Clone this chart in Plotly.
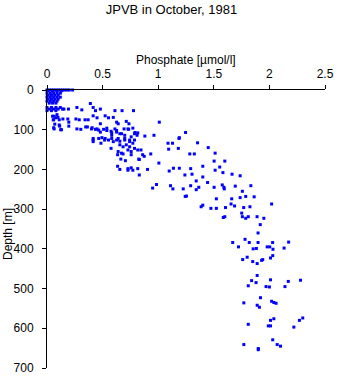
import plotly.graph_objects as go

TITLE = "JPVB in October, 1981"
X_TITLE = "Phosphate [\u00b5mol/l]"
Y_TITLE = "Depth [m]"
X_TICKS = [0, 0.5, 1, 1.5, 2, 2.5]
X_TICKTEXT = ["0", "0.5", "1", "1.5", "2", "2.5"]
Y_TICKS = [0, 100, 200, 300, 400, 500, 600, 700]

# Surface / near-surface samples (low phosphate)
phos_surface = [0, 0.02, 0.04, 0.06, 0.08, 0.10, 0.12, 0.14, 0.16, 0.18, 0.20, 0.23,
                0.01, 0.05, 0.09, 0.13,
                0.0, 0.03, 0.06, 0.09, 0.12,
                0.01, 0.04, 0.07, 0.10,
                0.0, 0.03, 0.06, 0.09, 0.12,
                0.01, 0.04, 0.07, 0.10,
                0.0, 0.03, 0.06, 0.09,
                0.02, 0.05, 0.08,
                0.0, 0.04, 0.08, 0.12,
                0.02, 0.06, 0.10, 0.14,
                0.0, 0.04, 0.08,
                0.05, 0.08, 0.11, 0.06, 0.09,
                0.07, 0.11, 0.06, 0.13]
depth_surface = [0, 0, 0, 0, 0, 0, 0, 0, 0, 0, 0, 0,
                 2, 2, 2, 2,
                 8, 8, 8, 8, 8,
                 13, 13, 13, 13,
                 18, 18, 18, 18, 18,
                 23, 23, 23, 23,
                 28, 28, 28, 28,
                 33, 33, 33,
                 44, 44, 44, 44,
                 48, 48, 48, 48,
                 52, 52, 52,
                 66, 70, 75, 75, 62,
                 86, 88, 95, 100]

# Upper thermocline samples (30-125 m)
phos_upper = [0.39, 0.415, 0.436, 0.48, 0.152, 0.193, 0.269, 0.313, 0.611, 0.675, 0.778,
              0.415, 0.45, 0.523, 0.553, 0.596, 0.48, 0.626, 0.64, 0.713, 0.737, 1.01,
              0.064, 0.099, 0.143, 0.187, 0.196, 0.26, 0.29, 0.342, 0.37, 0.056,
              0.064, 0.123, 0.114, 0.196, 0.269, 0.304, 0.363, 0.40, 0.436, 0.465,
              0.509, 0.538, 0.576, 0.611, 0.626, 0.655, 0.693, 0.734, 0.772, 0.792,
              0.81, 0.88, 0.962, 1.19, 1.246,
              0.415, 0.465, 0.494, 0.582, 0.64, 0.699, 0.743, 0.757, 0.582, 0.699,
              0.348, 0.406, 0.45, 0.48, 0.538, 0.582, 0.626, 0.67, 0.728, 0.787, 0.816]
depth_upper = [34, 44, 52, 48, 48, 48, 44, 50, 52, 52, 52,
               65, 70, 65, 70, 69, 85, 81, 85, 79, 85, 81,
               66, 69, 73, 73, 81, 73, 75, 75, 75, 75,
               98, 100, 91, 91, 98, 99, 93, 98, 99, 101,
               99, 96, 104, 98, 106, 110, 98, 99, 96, 107,
               114, 116, 114, 120, 107,
               122, 122, 120, 122, 122, 122, 126, 118, 114, 114,
               93, 95, 98, 106, 102, 108, 102, 110, 98, 110, 108]

# Mid-depth samples (120-420 m)
phos_mid = [0.415, 0.415, 0.485, 0.518, 0.553, 0.596, 0.626, 0.655, 0.699, 0.743, 0.772,
            0.787, 0.523, 1.088, 1.129, 1.187, 1.354,
            0.576, 0.655, 0.684, 0.713, 0.743, 0.787, 0.640, 0.670, 0.728, 0.757,
            0.816, 0.845, 1.181, 1.094, 1.450, 1.512,
            0.635, 0.684, 0.757, 0.860, 0.874, 0.933, 0.664, 0.705, 0.825, 0.830,
            1.284, 1.325, 1.503, 1.599,
            0.635, 0.655, 0.728, 0.757, 0.772, 0.728, 0.816, 0.904, 1.006, 1.099,
            1.137, 1.190, 1.292, 1.401, 1.512, 1.553, 1.582, 1.664, 1.737,
            0.830, 1.240, 1.304, 1.342, 1.401, 1.444, 0.950, 0.985, 1.111, 1.132,
            1.225, 1.292, 1.342, 1.365, 1.503, 1.576, 1.591, 1.594, 1.693, 1.757, 1.833,
            1.243, 1.254, 1.386, 1.401, 1.474, 1.523, 1.523, 1.605, 1.661, 1.655,
            1.687, 1.737, 1.769, 1.787, 1.825, 1.863, 2.020,
            1.585, 1.599, 1.751, 1.757, 1.787, 1.810, 1.889, 1.918, 1.950, 1.898,
            1.670, 1.722, 1.781, 1.819, 1.883, 1.898, 1.854, 1.980, 2.029, 2.003,
            2.032, 2.173, 2.132]
depth_mid = [126, 130, 134, 126, 126, 130, 126, 129, 126, 130, 134,
             126, 122, 134, 134, 122, 133,
             147, 138, 143, 138, 143, 147, 155, 159, 151, 155,
             151, 151, 147, 149, 145, 159,
             163, 161, 163, 163, 167, 161, 174, 178, 174, 175,
             161, 161, 179, 179,
             192, 200, 198, 196, 202, 202, 198, 200, 184, 204,
             197, 197, 198, 192, 202, 194, 208, 212, 216,
             214, 214, 212, 229, 219, 233, 247, 238, 241, 249,
             249, 241, 251, 245, 245, 239, 245, 249, 242, 255, 241,
             268, 267, 294, 290, 298, 298, 274, 296, 274, 287,
             292, 271, 296, 268, 294, 269, 287,
             321, 319, 310, 319, 323, 319, 319, 339, 323, 360,
             384, 395, 376, 384, 399, 384, 400, 395, 384, 395,
             401, 383, 398]

# Deep samples (415-660 m)
phos_deep = [1.76, 1.80, 1.85, 1.89, 1.93, 1.94, 2.01, 2.03,
             1.89, 1.84, 1.88, 2.01, 2.17, 2.28,
             1.81, 1.97, 2.00, 2.14,
             1.92, 1.77, 1.89, 1.91, 2.02, 2.06, 2.04,
             2.01, 2.04, 2.27, 2.30, 1.81, 1.99, 2.01, 2.22,
             2.03, 2.07, 2.10, 1.77, 1.90, 1.90]
depth_deep = [427, 421, 432, 437, 429, 427, 423, 417,
              467, 480, 485, 478, 482, 479,
              493, 495, 496, 495,
              523, 536, 542, 547, 532, 537, 535,
              580, 576, 580, 574, 590, 594, 594, 597,
              629, 641, 645, 641, 654, 651]

phosphate = phos_surface + phos_upper + phos_mid + phos_deep
depth = depth_surface + depth_upper + depth_mid + depth_deep

FONT = "Liberation Sans, Arial, Helvetica, sans-serif"

fig = go.Figure()
fig.add_trace(go.Scatter(
    x=phosphate, y=depth, mode="markers",
    marker=dict(symbol="square", size=3, color="#0000ff", line=dict(width=0)),
    cliponaxis=False, showlegend=False,
))

fig.update_layout(
    width=343, height=384,
    margin=dict(l=47, r=11, t=90, b=9),
    paper_bgcolor="white", plot_bgcolor="white",
    font=dict(family=FONT, size=12, color="black"),
    title=dict(text=TITLE, x=0.5, xanchor="center", y=1 - 9 / 384, yanchor="middle",
               yref="container", font=dict(size=13, family=FONT, color="black")),
    xaxis=dict(
        side="top", range=[0, 2.5], tickvals=X_TICKS, ticktext=X_TICKTEXT,
        ticks="outside", ticklen=4, tickcolor="black", showline=True,
        linecolor="black", linewidth=1, showgrid=False, zeroline=False,
        ticklabelstandoff=2, tickfont=dict(size=12),
    ),
    yaxis=dict(
        range=[700, 0], tickvals=Y_TICKS, ticks="outside", ticklen=4,
        tickcolor="black", showline=True, linecolor="black", linewidth=1,
        showgrid=False, zeroline=False, ticklabelstandoff=6,
        tickfont=dict(size=12),
    ),
    annotations=[
        dict(text=X_TITLE, xref="paper", yref="paper", x=0.5, y=1,
             xanchor="center", yanchor="middle", yshift=30, showarrow=False,
             font=dict(size=12)),
        dict(text=Y_TITLE, xref="paper", yref="paper", x=0, y=0.5,
             xanchor="center", yanchor="middle", xshift=-39, yshift=-5,
             textangle=-90, showarrow=False, font=dict(size=12)),
    ],
)

fig.write_html("out.html")
